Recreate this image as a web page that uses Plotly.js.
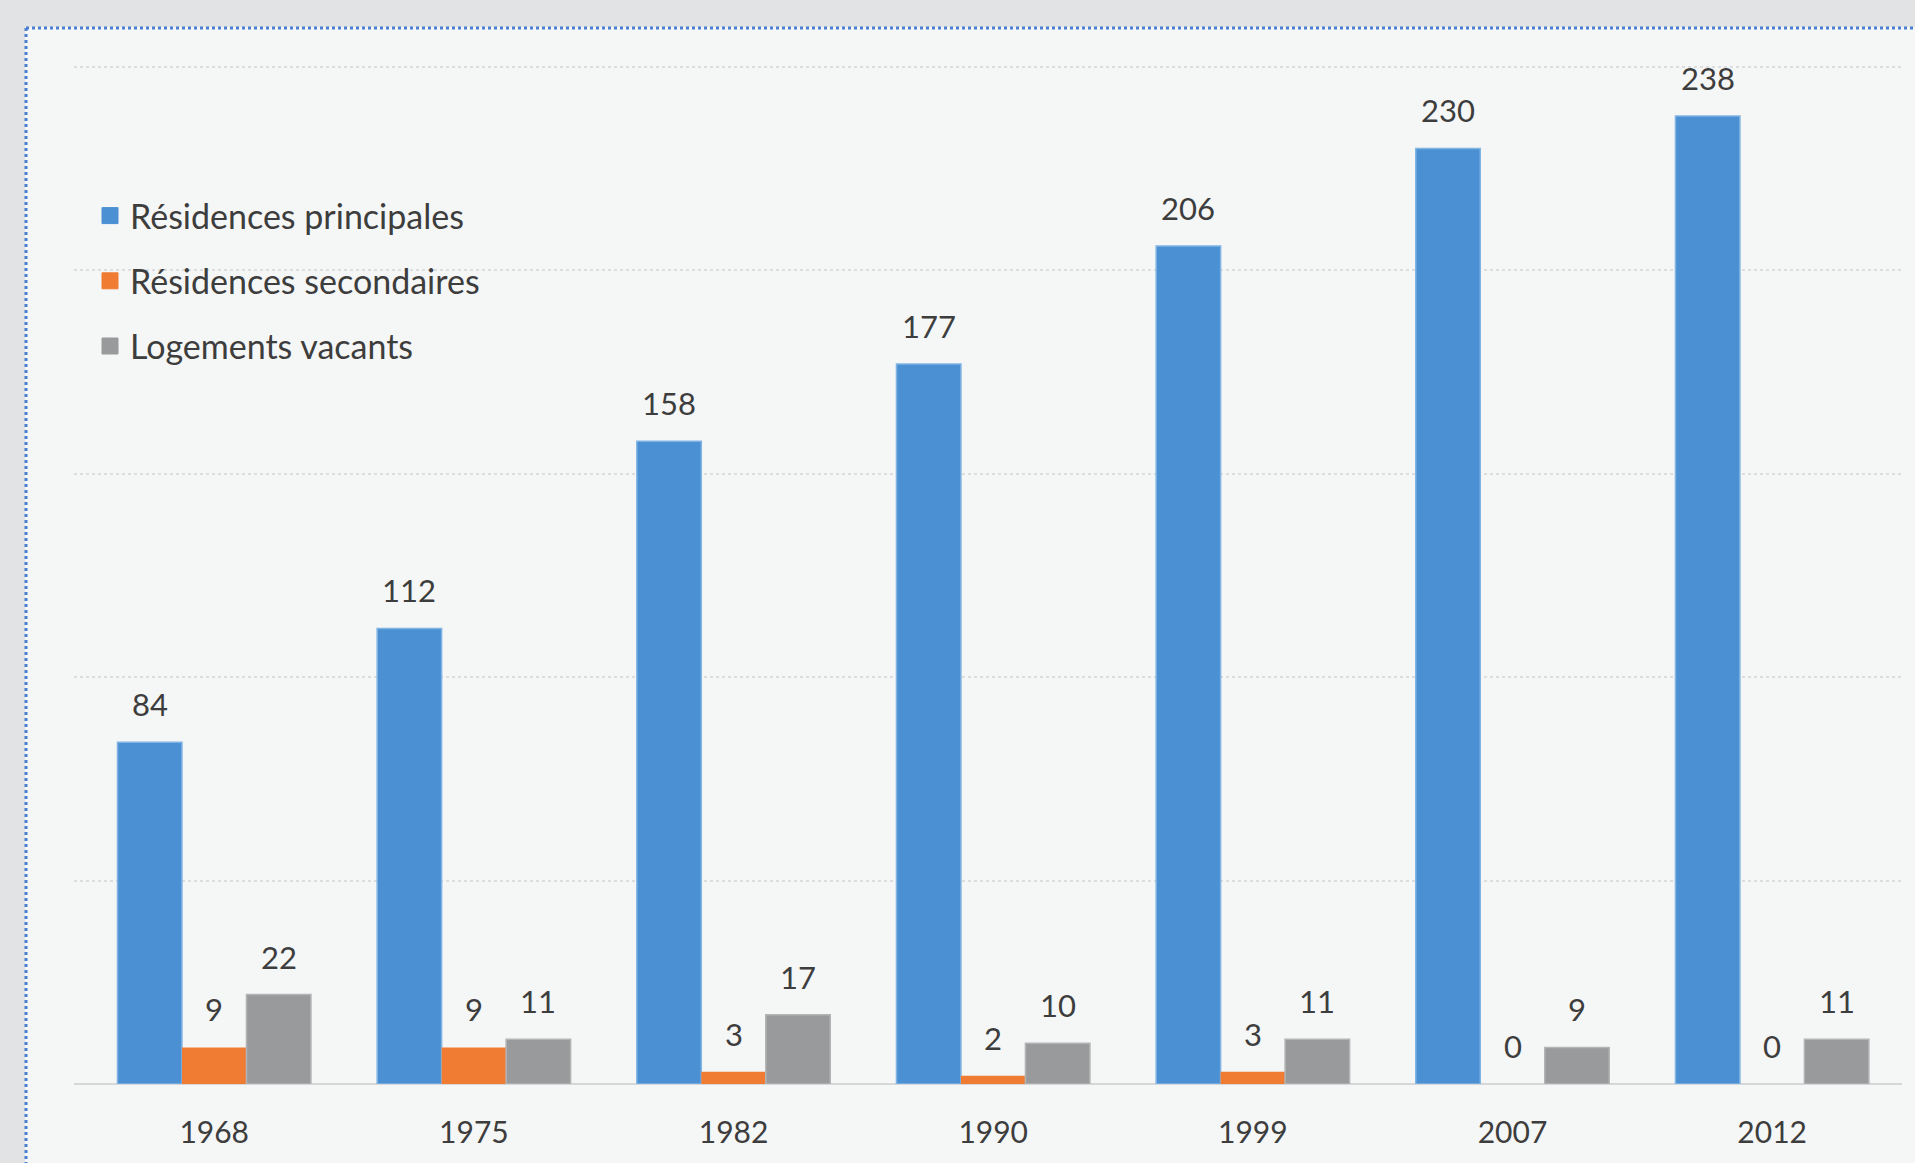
<!DOCTYPE html>
<html>
<head>
<meta charset="utf-8">
<script src="https://cdn.plot.ly/plotly-3.0.1.min.js"></script>
<style>html,body{margin:0;padding:0;background:#e2e3e5;}#chart{width:1915px;height:1163px;}</style>
</head>
<body>
<div id="chart"></div>
<script>
const years = ['1968', '1975', '1982', '1990', '1999', '2007', '2012'];
const principales = [84, 112, 158, 177, 206, 230, 238];
const secondaires = [9, 9, 3, 2, 3, 0, 0];
const vacants = [22, 11, 17, 10, 11, 9, 11];
const seriesNames = ['Résidences principales', 'Résidences secondaires', 'Logements vacants'];

const colors = ['#4b90d2', '#f07c33', '#999a9c'];
const edges = ['#80b4e4', '#f07c33', '#b3b4b6'];
const edgeWidths = [1.5, 0, 1.5];
const W = 1915, H = 1163;
const margin = {l: 74, r: 13, t: 63, b: 79, pad: 0};
const xRange = [-0.54, 6.5];
const yRange = [0, 251];
const bargap = 0.255;
const labelFont = {family: 'Lato, "Open Sans", sans-serif', size: 31, color: '#3d3d3d'};

const seriesList = [principales, secondaires, vacants];
const traces = seriesList.map((vals, i) => ({
  type: 'bar',
  name: seriesNames[i],
  x: years,
  y: vals,
  showlegend: false,
  marker: {color: colors[i], line: {color: edges[i], width: edgeWidths[i]}},
  hoverinfo: 'skip'
}));
// legend entries (larger square swatches)
seriesNames.forEach((nm, i) => {
  traces.push({
    type: 'scatter', mode: 'markers',
    name: nm, x: [years[0]], y: [null],
    legendgroup: 'g' + i,
    marker: {symbol: 'square', size: 16, color: colors[i], line: {color: colors[i], width: 1}},
    hoverinfo: 'skip'
  });
});

const plotW = W - margin.l - margin.r;
const unit = plotW / (xRange[1] - xRange[0]);
const bw = (1 - bargap) * unit / 3;
const annotations = [];
seriesList.forEach((vals, i) => {
  vals.forEach((v, j) => {
    annotations.push({
      x: j, y: v, xref: 'x', yref: 'y',
      text: String(v), showarrow: false,
      xshift: (i - 1) * bw, yshift: 38,
      yanchor: 'middle', xanchor: 'center',
      font: labelFont
    });
  });
});

const ph = H - margin.t - margin.b;
const px = p => (p - margin.l) / plotW;
const py = p => 1 - (p - margin.t) / ph;
const shapes = [
  {type: 'rect', xref: 'paper', yref: 'paper', layer: 'below',
   x0: px(25), x1: px(1920), y0: py(1170), y1: py(27),
   fillcolor: '#f5f6f6', line: {width: 0}},
  {type: 'line', xref: 'paper', yref: 'paper', layer: 'above',
   x0: px(26), x1: px(1920), y0: py(28), y1: py(28),
   line: {color: '#4a7fcf', width: 3, dash: 'dot'}},
  {type: 'line', xref: 'paper', yref: 'paper', layer: 'above',
   x0: px(26), x1: px(26), y0: py(28), y1: py(1170),
   line: {color: '#4a7fcf', width: 3, dash: 'dot'}}
];

const layout = {
  width: W, height: H,
  margin: margin,
  paper_bgcolor: '#e2e3e5',
  plot_bgcolor: 'rgba(0,0,0,0)',
  barmode: 'group',
  bargap: bargap,
  bargroupgap: 0,
  showlegend: true,
  legend: {
    x: px(90), xanchor: 'left',
    y: py(187), yanchor: 'top',
    bgcolor: 'rgba(0,0,0,0)',
    font: {family: 'Lato, "Open Sans", sans-serif', size: 34, color: '#3d3d3d'},
    tracegroupgap: 18,
    itemwidth: 30,
    traceorder: 'grouped'
  },
  xaxis: {
    type: 'category',
    range: xRange,
    showgrid: false,
    zeroline: false,
    showline: false,
    ticks: '',
    ticklabelstandoff: 28,
    tickfont: {family: 'Lato, "Open Sans", sans-serif', size: 30, color: '#3d3d3d'},
    fixedrange: true
  },
  yaxis: {
    range: yRange,
    tickvals: [0, 50, 100, 150, 200, 250],
    showticklabels: false,
    showgrid: true,
    gridcolor: '#dcdddf',
    griddash: 'dot',
    gridwidth: 2,
    zeroline: true,
    zerolinecolor: '#d6d7d9',
    zerolinewidth: 2,
    showline: false,
    ticks: '',
    fixedrange: true
  },
  shapes: shapes,
  annotations: annotations,
  font: {family: 'Lato, "Open Sans", sans-serif'}
};

Plotly.newPlot('chart', traces, layout, {displayModeBar: false});
</script>
</body>
</html>
